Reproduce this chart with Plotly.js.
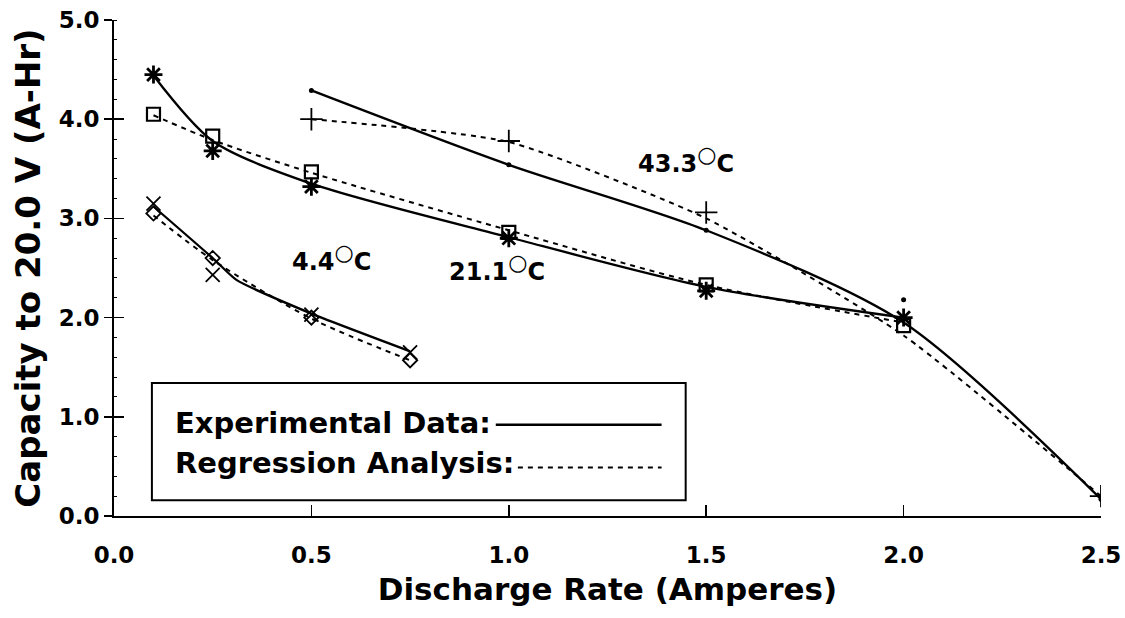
<!DOCTYPE html>
<html><head><meta charset="utf-8">
<script src="https://cdn.plot.ly/plotly-3.0.1.min.js"></script>
<style>html,body{margin:0;padding:0;background:#fff}#chart{width:1125px;height:618px}</style>
</head><body><div id="chart"></div>
<script>
// ---- data ----
const tempLabels = ['4.4', '21.1', '43.3'];
const xTickVals = [0, 0.5, 1.0, 1.5, 2.0, 2.5];
const xTickText = ['0.0', '0.5', '1.0', '1.5', '2.0', '2.5'];
const yTickVals = [0, 1, 2, 3, 4, 5];
const yTickText = ['0.0', '1.0', '2.0', '3.0', '4.0', '5.0'];

// 43.3 C
const x43 = [0.5, 1.0, 1.5, 2.0, 2.5];
const exp43Curve = [4.29, 3.54, 2.88, 1.95, 0.17];
const reg43Curve = [4.0, 3.77, 3.0, 1.82, 0.2];
const dot43 = [4.29, 3.54, 2.88, 2.18, 0.17];
const xPlus43 = [0.5, 1.0, 1.5, 2.5];
const plus43 = [4.0, 3.78, 3.06, 0.2];

// 21.1 C
const x21 = [0.1, 0.25, 0.5, 1.0, 1.5, 2.0];
const exp21Curve = [4.44, 3.78, 3.35, 2.81, 2.31, 2.0];
const reg21Curve = [4.04, 3.79, 3.46, 2.88, 2.33, 1.95];
const star21 = [4.45, 3.68, 3.32, 2.80, 2.27, 2.0];
const square21 = [4.05, 3.83, 3.47, 2.86, 2.33, 1.92];

// 4.4 C
const x44 = [0.1, 0.25, 0.5, 0.75];
const x44Curve = [0.1, 0.25, 0.31, 0.5, 0.75];
const exp44Curve = [3.12, 2.60, 2.38, 2.04, 1.66];
const reg44Curve = [3.03, 2.58, 1.99, 1.57];
const cross44 = [3.15, 2.43, 2.03, 1.65];
const diamond44 = [3.05, 2.60, 2.00, 1.57];

const legendLabels = ['Experimental Data:', 'Regression Analysis:'];
const xTitle = 'Discharge Rate (Amperes)';
const yTitle = 'Capacity to 20.0 V (A-Hr)';

// ---- styling ----
const FONT = 'DejaVu Sans, Arial, sans-serif';
const solid = {color: '#000', width: 2.3, shape: 'spline', smoothing: 0.8};
const dashed = {color: '#000', width: 2, dash: '5px,5px', shape: 'spline', smoothing: 0.8};
const lineTrace = (x, y, line) => ({x, y, type: 'scatter', mode: 'lines', line, hoverinfo: 'skip'});
const markTrace = (x, y, symbol, size, w) => ({x, y, type: 'scatter', mode: 'markers',
  marker: {symbol, size, color: '#000', line: {color: '#000', width: w}}, hoverinfo: 'skip'});

const traces = [
  lineTrace(x43, exp43Curve, solid),
  lineTrace(x43, reg43Curve, Object.assign({}, dashed, {smoothing: 0.55})),
  lineTrace(x21, exp21Curve, solid),
  lineTrace(x21, reg21Curve, dashed),
  lineTrace(x44Curve, exp44Curve, Object.assign({}, solid, {smoothing: 0.5})),
  lineTrace(x44, reg44Curve, dashed),
  markTrace(x43, dot43, 'circle', 5, 0),
  markTrace(xPlus43, plus43, 'cross-thin-open', 16, 1.8),
  markTrace(x21, star21, 'asterisk-open', 15, 2.8),
  markTrace(x21, square21, 'square-open', 13, 2.2),
  markTrace(x44, cross44, 'x-thin-open', 14, 1.8),
  markTrace(x44, diamond44, 'diamond-open', 11, 1.8)
];

const tempPos = [[0.552, 2.6], [0.97, 2.5], [1.448, 3.59]];
const annotations = tempLabels.map((t, i) => ({
  x: tempPos[i][0], y: tempPos[i][1], xref: 'x', yref: 'y', showarrow: false,
  text: t + '<sup><span style="font-size:22px;font-weight:normal">\u25CB</span></sup>C',
  xanchor: 'center', yanchor: 'middle',
  font: {family: FONT, size: 24, weight: 700, color: '#000'}
}));
annotations.push({x: 0.149, y: 0.94, xref: 'x', yref: 'y', showarrow: false, xanchor: 'left', yanchor: 'middle',
  text: legendLabels[0], font: {family: FONT, size: 29, weight: 700, color: '#000'}});
annotations.push({x: 0.149, y: 0.53, xref: 'x', yref: 'y', showarrow: false, xanchor: 'left', yanchor: 'middle',
  text: legendLabels[1], font: {family: FONT, size: 29, weight: 700, color: '#000'}});

const shapes = [
  {type: 'rect', xref: 'x', yref: 'y', x0: 0.096, x1: 1.448, y0: 0.16, y1: 1.34,
   line: {color: '#000', width: 2}, fillcolor: 'rgba(0,0,0,0)'},
  {type: 'line', xref: 'x', yref: 'y', x0: 0.967, x1: 1.387, y0: 0.92, y1: 0.92,
   line: {color: '#000', width: 2.4}},
  {type: 'line', xref: 'x', yref: 'y', x0: 1.023, x1: 1.387, y0: 0.49, y1: 0.49,
   line: {color: '#000', width: 2, dash: '5px,5px'}}
];

const tickFont = {family: FONT, size: 23, weight: 700, color: '#000'};
const layout = {
  width: 1125, height: 618,
  margin: {l: 114, r: 24, t: 20, b: 102},
  paper_bgcolor: '#fff', plot_bgcolor: '#fff',
  showlegend: false,
  xaxis: {
    range: [0, 2.5], tickvals: xTickVals, ticktext: xTickText,
    ticks: 'inside', ticklen: 11, tickwidth: 1.6, tickcolor: '#000',
    showline: true, linewidth: 2, linecolor: '#000', showgrid: false, zeroline: false,
    tickfont: tickFont, ticklabelstandoff: 17,
    title: {text: xTitle, font: {family: FONT, size: 31, weight: 700, color: '#000'}, standoff: 12},
    fixedrange: true
  },
  yaxis: {
    range: [0, 5], tickvals: yTickVals, ticktext: yTickText,
    ticks: 'outside', ticklen: 8, tickwidth: 1.6, tickcolor: '#000',
    showline: true, linewidth: 2, linecolor: '#000', showgrid: false, zeroline: false,
    tickfont: tickFont,
    minor: {ticks: 'inside', ticklen: 3, dtick: 0.2, tickcolor: '#000', tickwidth: 1, showgrid: false},
    title: {text: yTitle, font: {family: FONT, size: 34, weight: 700, color: '#000'}, standoff: 8},
    fixedrange: true
  },
  yaxis2: {
    overlaying: 'y', anchor: 'x', side: 'left', range: [0, 5], tickvals: yTickVals,
    ticks: 'inside', ticklen: 10, tickwidth: 1.6, tickcolor: '#000',
    showticklabels: false, showline: false, showgrid: false, zeroline: false, fixedrange: true
  },
  annotations, shapes
};
// an invisible trace on y2 so its inside ticks are drawn
traces.push({x: [0], y: [0], yaxis: 'y2', type: 'scatter', mode: 'markers', marker: {opacity: 0}, hoverinfo: 'skip'});

Plotly.newPlot('chart', traces, layout, {displayModeBar: false, staticPlot: true});
</script>
</body></html>
